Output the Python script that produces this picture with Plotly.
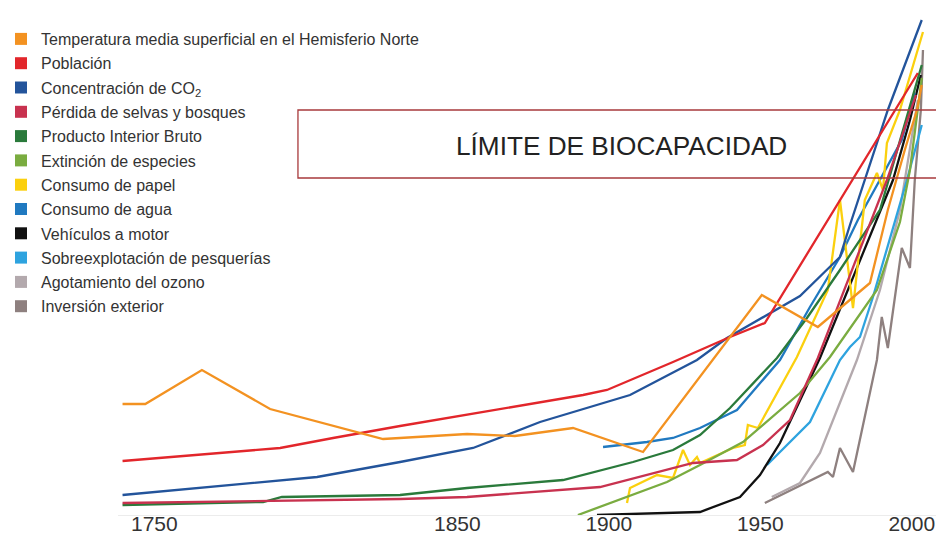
import plotly.graph_objects as go

# ---- data (years, index values 0-100) ----
names = [
    "Temperatura media superficial en el Hemisferio Norte",
    "Población",
    "Concentración de CO<sub>2</sub>",
    "Pérdida de selvas y bosques",
    "Producto Interior Bruto",
    "Extinción de especies",
    "Consumo de papel",
    "Consumo de agua",
    "Vehículos a motor",
    "Sobreexplotación de pesquerías",
    "Agotamiento del ozono",
    "Inversión exterior",
]
colors = ["#f39221", "#e2262b", "#23549b", "#c8324f", "#2a7a3b", "#7aac40",
          "#fbd00e", "#2079c0", "#111111", "#2ea3df", "#b3a9ad", "#8e807f"]

temp_x = [1739.5, 1747, 1765.7, 1788.2, 1825.5, 1853.2, 1869, 1888.2, 1911.3, 1950.5, 1969, 1986.2, 1992.1, 1997.7, 2001.7, 2003.3]
temp_y = [22.2, 22.2, 29, 21.2, 15.2, 16.2, 15.8, 17.4, 12.6, 44, 37.6, 46.4, 61, 73, 81, 86]

pob_x = [1739.5, 1791.5, 1809, 1831.1, 1891.5, 1899.4, 1921.2, 1940, 1951.5, 2002]
pob_y = [10.8, 13.4, 15.4, 17.8, 24, 25, 30.6, 35.6, 38.4, 88.4]

co2_x = [1739.5, 1803.7, 1831.1, 1855.2, 1877.3, 1907, 1929.1, 1939, 1963.1, 1976.3, 1979.6, 1992.1, 2003.3]
co2_y = [4, 7.6, 10.6, 13.4, 18.6, 24, 31, 35.4, 43.8, 51.6, 58, 81, 99]

selvas_x = [1739.5, 1831.1, 1853.2, 1897.1, 1927.8, 1942.3, 1950.9, 1959.8, 1969, 1991.8, 2001.4]
selvas_y = [2.4, 3.2, 3.6, 5.6, 10.4, 11, 14, 19, 31.4, 67, 84]

pib_x = [1739.5, 1785.9, 1792.1, 1831.1, 1853.2, 1884.9, 1908, 1921.2, 1930.1, 1940, 1955.5, 1965.4, 1976.3, 1989.5, 2003.3]
pib_y = [2, 2.6, 3.6, 4, 5.4, 7, 10.6, 13, 16, 21.4, 31.4, 39.4, 49, 61, 90]

ext_x = [1889.8, 1919.2, 1930.1, 1944.3, 1963.1, 1973, 1988.5, 1996.1, 1999.4, 2002, 2003.3]
ext_y = [0, 6.6, 10, 14.6, 24.4, 31.6, 45, 58.6, 69, 81, 87.4]

papel_x = [1906, 1907, 1915.9, 1921.2, 1924.5, 1926.8, 1929.1, 1930.1, 1941, 1944.9, 1945.9, 1949.2,
           1962.1, 1972.3, 1976.3, 1980.6, 1984.5, 1988.5, 1990.5, 1991.8, 1996.1, 2003.7]
papel_y = [2.4, 5.4, 8, 7.4, 13, 10, 11.6, 10.4, 13.4, 14, 18, 17.4,
           31.6, 45, 63, 41.4, 63, 68.4, 65, 74.4, 81, 96.6]

agua_x = [1898.1, 1912.6, 1921.2, 1930.1, 1942.3, 1956.5, 1966.4, 1976.3, 1982.2, 1996.7, 2001]
agua_y = [13.6, 14.6, 15.4, 17.4, 21, 31, 41.6, 51.6, 59, 75, 84.4]

veh_x = [1896.1, 1930.1, 1943.3, 1949.9, 1956.5, 1969.7, 1993.8, 1999.4, 2003]
veh_y = [0, 0.6, 3.6, 8, 14.4, 31.4, 67, 79, 88]

pesca_x = [1952.2, 1966.4, 1972, 1976.3, 1979.6, 1982.9, 1987.2, 1998.4, 2003.3]
pesca_y = [10, 18.6, 25.6, 31, 33.6, 35.6, 43.6, 67, 78]

ozono_x = [1953.8, 1963.1, 1969.7, 1981.9, 1989.5, 1996.1, 2002]
ozono_y = [3.6, 6.4, 12.4, 31, 45, 61, 83]

inv_x = [1951.5, 1972.3, 1974, 1976.3, 1980.6, 1988.5, 1990.1, 1992.1, 1996.7, 1999.4, 2001, 2003, 2003.7]
inv_y = [2.4, 8.6, 7.6, 13.4, 8.6, 31, 39.6, 33.4, 53.4, 49.4, 67, 81, 93]

series_x = [temp_x, pob_x, co2_x, selvas_x, pib_x, ext_x, papel_x, agua_x, veh_x, pesca_x, ozono_x, inv_x]
series_y = [temp_y, pob_y, co2_y, selvas_y, pib_y, ext_y, papel_y, agua_y, veh_y, pesca_y, ozono_y, inv_y]

tick_years = [1750, 1850, 1900, 1950, 2000]
limit_label = "LÍMITE DE BIOCAPACIDAD"

FONT = "Liberation Sans, Arial, Helvetica, sans-serif"

fig = go.Figure()

# lines
for i in reversed(range(len(names))):
    fig.add_trace(go.Scatter(
        x=series_x[i], y=series_y[i], mode="lines",
        line=dict(color=colors[i], width=2.3),
        showlegend=False, hoverinfo="skip",
    ))

# legend entries (square swatches)
for i, n in enumerate(names):
    fig.add_trace(go.Scatter(
        x=[None], y=[None], mode="markers", name=n,
        marker=dict(symbol="square", size=12, color=colors[i]),
        legendgroup=f"g{i}", showlegend=True,
    ))

fig.add_shape(type="rect", xref="paper", yref="paper",
              x0=0.22, x1=1.05, y0=0.674, y1=0.81,
              line=dict(color="#a83a3c", width=1.3), fillcolor="rgba(0,0,0,0)",
              layer="above")
fig.add_annotation(text=limit_label, xref="paper", yref="paper",
                   x=0.616, y=0.773, showarrow=False,
                   font=dict(size=26.2, color="#222222", family=FONT))

fig.update_layout(
    width=936, height=537,
    margin=dict(l=118, r=0, t=15, b=22, pad=0, autoexpand=False),
    paper_bgcolor="white", plot_bgcolor="white",
    font=dict(family=FONT, color="#333333"),
    hovermode=False,
    legend=dict(
        x=-0.143, y=0.986, xanchor="left", yanchor="top",
        font=dict(size=16, color="#333333"),
        bgcolor="rgba(0,0,0,0)", traceorder="grouped", tracegroupgap=0.5,
        itemsizing="trace",
    ),
    xaxis=dict(range=[1738, 2008], tickvals=tick_years, ticktext=[str(t) for t in tick_years],
               showgrid=False, zeroline=False, ticks="", automargin=False,
               showline=True, linecolor="#ececec", linewidth=1,
               ticklabelstandoff=-10,
               tickfont=dict(size=21, color="#333333")),
    yaxis=dict(range=[0, 100], visible=False, showgrid=False, zeroline=False, automargin=False),
)

fig.write_html("out.html", config={"displayModeBar": False},
               post_script="document.body.style.margin='0';document.body.style.overflow='hidden';")
